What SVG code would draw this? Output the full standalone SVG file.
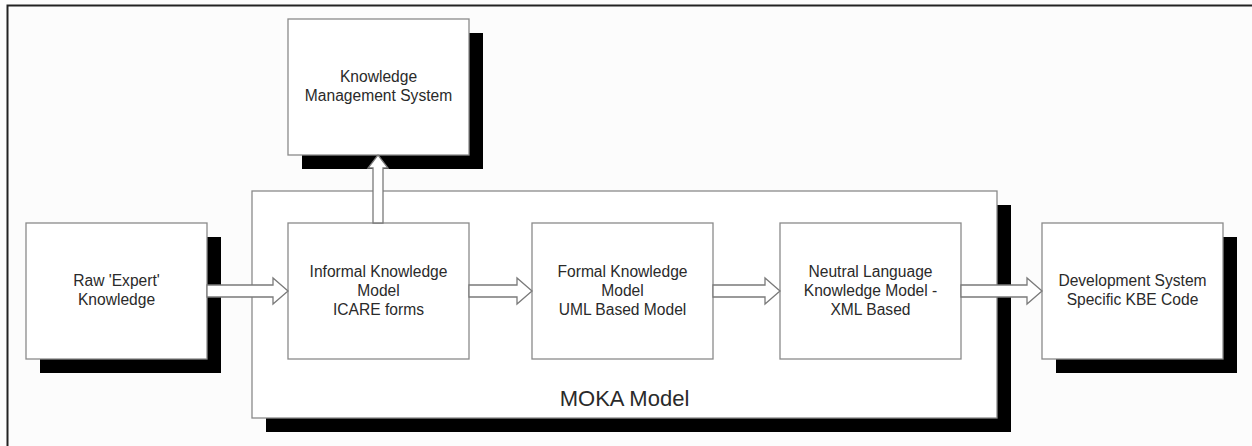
<svg xmlns="http://www.w3.org/2000/svg" width="1252" height="446" viewBox="0 0 1252 446">
<style>
.box{fill:#ffffff;stroke:#8a8a8a;stroke-width:1.3}
.shadow{fill:#000000}
.lbl{font-family:"Liberation Sans",Arial,sans-serif;font-size:15.6px;fill:#2a2a2a;text-anchor:middle}
.big{font-family:"Liberation Sans",Arial,sans-serif;font-size:22px;fill:#2a2a2a;text-anchor:middle}
.arrow{fill:#ffffff;stroke:#7a7a7a;stroke-width:1.3;stroke-linejoin:miter}
</style>
<rect x="0" y="0" width="1252" height="446" fill="#fcfcfc"/>
<path d="M7.5,446 V5.5 H1252" fill="none" stroke="#222222" stroke-width="2"/>
<g id="moka">
<rect class="shadow" x="266" y="205" width="745" height="227"/>
<rect class="box" x="252" y="191" width="745" height="227"/>
<text class="big" x="624.5" y="406">MOKA Model</text>
</g>
<g id="kms">
<rect class="shadow" x="302" y="33" width="181" height="136"/>
<rect class="box" x="288" y="19" width="181" height="136"/>
<text class="lbl" x="378.5" y="82">Knowledge</text>
<text class="lbl" x="378.5" y="101">Management System</text>
</g>
<g id="raw">
<rect class="shadow" x="40" y="237" width="181" height="136"/>
<rect class="box" x="26" y="223" width="181" height="136"/>
<text class="lbl" x="116.5" y="286">Raw 'Expert'</text>
<text class="lbl" x="116.5" y="305">Knowledge</text>
</g>
<g id="informal">
<rect class="box" x="288" y="223" width="181" height="136"/>
<text class="lbl" x="378.5" y="277">Informal Knowledge</text>
<text class="lbl" x="378.5" y="296">Model</text>
<text class="lbl" x="378.5" y="315">ICARE forms</text>
</g>
<g id="formal">
<rect class="box" x="532" y="223" width="181" height="136"/>
<text class="lbl" x="622.5" y="277">Formal Knowledge</text>
<text class="lbl" x="622.5" y="296">Model</text>
<text class="lbl" x="622.5" y="315">UML Based Model</text>
</g>
<g id="neutral">
<rect class="box" x="780" y="223" width="181" height="136"/>
<text class="lbl" x="870.5" y="277">Neutral Language</text>
<text class="lbl" x="870.5" y="296">Knowledge Model -</text>
<text class="lbl" x="870.5" y="315">XML Based</text>
</g>
<g id="dev">
<rect class="shadow" x="1056" y="237" width="181" height="136"/>
<rect class="box" x="1042" y="223" width="181" height="136"/>
<text class="lbl" x="1132.5" y="286">Development System</text>
<text class="lbl" x="1132.5" y="305">Specific KBE Code</text>
</g>
<g id="connectors">
<path class="arrow" d="M207,285 H273 V278 L288,291 L273,304 V297 H207 Z"/>
<path class="arrow" d="M469,285 H517 V278 L532,291 L517,304 V297 H469 Z"/>
<path class="arrow" d="M713,285 H765 V278 L780,291 L765,304 V297 H713 Z"/>
<path class="arrow" d="M961,285 H1027 V278 L1042,291 L1027,304 V297 H961 Z"/>
<path class="arrow" d="M373,223 V168 H368 L378,155 L388,168 H383 V223 Z"/>
</g>
</svg>
